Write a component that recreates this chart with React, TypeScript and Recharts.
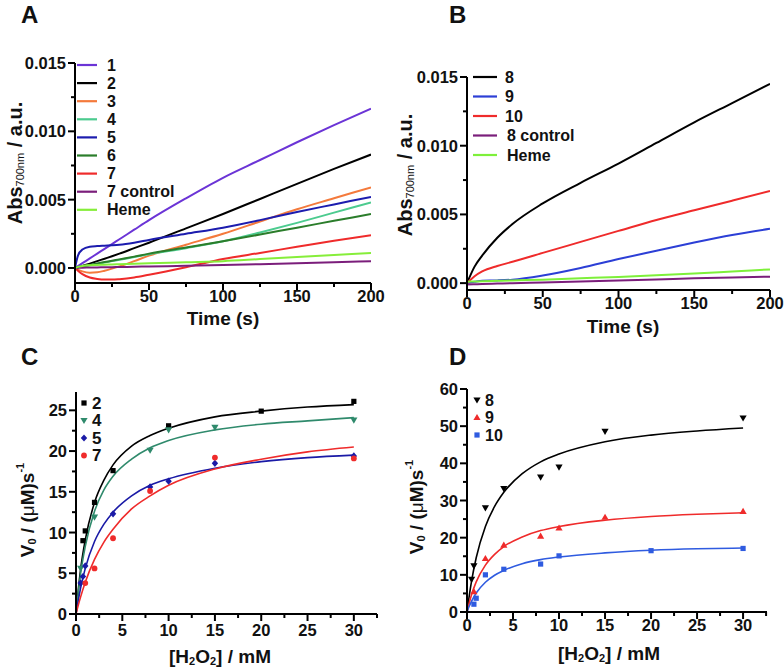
import React from 'react';
import { LineChart, ComposedChart, Line, Scatter, XAxis, YAxis } from 'recharts';

const FONT = '"Liberation Sans", Arial, Helvetica, sans-serif';
const INK = '#111';

// ---------- Panel A: Abs700 vs time, compounds 1-7 ----------
const timeA = [0, 2, 5, 10, 15, 20, 25, 30, 40, 50, 75, 100, 125, 150, 175, 200];
const absA1 = [0, 0.00014, 0.00035, 0.0007, 0.00105, 0.0014, 0.00175, 0.0021, 0.0028, 0.0035, 0.0051, 0.0066, 0.0079, 0.0092, 0.01045, 0.01165];
const absA2 = [0, 0.00005, 0.00015, 0.00032, 0.0005, 0.00068, 0.00086, 0.00105, 0.00145, 0.00185, 0.0029, 0.00395, 0.00505, 0.00615, 0.00725, 0.0083];
const absA3 = [0, -0.00012, -0.00025, -0.00035, -0.00032, -0.0002, -0.00005, 0.00012, 0.0005, 0.0009, 0.0017, 0.0025, 0.0034, 0.0043, 0.0051, 0.0059];
const absA4 = [0, 0.00004, 0.0001, 0.0002, 0.0003, 0.0004, 0.0005, 0.0006, 0.0008, 0.001, 0.00145, 0.00195, 0.0026, 0.0033, 0.00405, 0.0048];
const absA5 = [0, 0.0009, 0.00135, 0.00155, 0.0016, 0.00163, 0.00166, 0.0017, 0.00185, 0.00205, 0.0025, 0.00295, 0.0035, 0.0041, 0.00465, 0.0052];
const absA6 = [0, 0.00005, 0.00012, 0.00022, 0.00033, 0.00043, 0.00053, 0.00063, 0.00083, 0.00105, 0.0015, 0.00195, 0.00245, 0.00295, 0.00345, 0.00395];
const absA7 = [0, -0.0002, -0.00045, -0.0007, -0.0008, -0.00085, -0.00085, -0.00082, -0.0007, -0.0005, 0.00005, 0.00065, 0.0011, 0.00155, 0.002, 0.0024];
const absA7c = [0, 0.00001, 0.00002, 0.00003, 0.00004, 0.00005, 0.00006, 0.00007, 0.00009, 0.00011, 0.00016, 0.00021, 0.00028, 0.00035, 0.00042, 0.0005];
const absAHeme = [0, 0.00008, 0.00015, 0.0002, 0.00022, 0.00024, 0.00026, 0.00028, 0.00031, 0.00034, 0.00042, 0.0005, 0.00065, 0.0008, 0.00095, 0.0011];

const seriesA = [
  { key: 'a1', name: '1', color: '#6b34d6', values: absA1 },
  { key: 'a2', name: '2', color: '#000000', values: absA2 },
  { key: 'a3', name: '3', color: '#f47a3c', values: absA3 },
  { key: 'a4', name: '4', color: '#4ccb8f', values: absA4 },
  { key: 'a5', name: '5', color: '#1c1cae', values: absA5 },
  { key: 'a6', name: '6', color: '#2b7d2b', values: absA6 },
  { key: 'a7', name: '7', color: '#ef2b2b', values: absA7 },
  { key: 'a7c', name: '7 control', color: '#7b1e7b', values: absA7c },
  { key: 'aH', name: 'Heme', color: '#86ee3a', values: absAHeme },
];

// ---------- Panel B: Abs700 vs time, compounds 8-10 ----------
const timeB = [0, 5, 10, 20, 30, 50, 75, 100, 125, 150, 175, 200];
const absB8 = [0, 0.0012, 0.002, 0.0033, 0.0043, 0.0058, 0.0073, 0.0087, 0.0102, 0.0117, 0.0131, 0.0145];
const absB9 = [0, 0.0001, 0.00018, 0.0002, 0.00025, 0.00055, 0.0011, 0.00175, 0.00235, 0.00295, 0.0035, 0.00395];
const absB10 = [0, 0.0005, 0.00085, 0.00125, 0.00155, 0.0022, 0.003, 0.0038, 0.0046, 0.0053, 0.006, 0.0067];
const absB8c = [-0.0001, -0.00008, -0.00006, -0.00003, 0, 0.00005, 0.00012, 0.0002, 0.00027, 0.00035, 0.00041, 0.00047];
const absBHeme = [0.0001, 0.00012, 0.00014, 0.00017, 0.0002, 0.00025, 0.00035, 0.00045, 0.00057, 0.0007, 0.00085, 0.001];

const seriesB = [
  { key: 'b8', name: '8', color: '#000000', values: absB8 },
  { key: 'b9', name: '9', color: '#2c3fd6', values: absB9 },
  { key: 'b10', name: '10', color: '#ef2b2b', values: absB10 },
  { key: 'b8c', name: '8 control', color: '#7b1e7b', values: absB8c },
  { key: 'bH', name: 'Heme', color: '#7ef03a', values: absBHeme },
];

// ---------- Panel C / D: V0 vs [H2O2] ----------
const fitX = [0, 0.25, 0.5, 1, 2, 3, 4, 6, 8, 10, 15, 20, 25, 30];

const c2X = [0.75, 1, 2, 4, 10, 20, 30];
const c2Y = [9.0, 10.2, 13.7, 17.6, 23.1, 24.9, 26.1];
const c4X = [0.5, 2, 8, 10, 15, 30];
const c4Y = [5.6, 11.9, 20.1, 22.6, 22.9, 23.8];
const c5X = [0.5, 0.75, 1, 4, 8, 10, 15, 30];
const c5Y = [3.8, 4.6, 5.9, 12.3, 15.6, 16.3, 18.5, 19.4];
const c7X = [1, 2, 4, 8, 15, 30];
const c7Y = [3.8, 5.6, 9.3, 15.1, 19.2, 19.1];

const c2Fit = [0, 3.0, 5.5, 9.1, 13.7, 16.4, 18.3, 20.6, 21.9, 22.8, 24.2, 24.9, 25.4, 25.7];
const c4Fit = [0, 2.7, 5.0, 8.3, 12.6, 15.2, 16.9, 19.0, 20.4, 21.3, 22.6, 23.3, 23.7, 24.1];
const c5Fit = [0, 1.7, 3.2, 5.6, 8.9, 11.0, 12.5, 14.5, 15.8, 16.6, 17.9, 18.7, 19.2, 19.5];
const c7Fit = [0, 1.1, 2.1, 3.9, 6.7, 8.8, 10.4, 12.9, 14.5, 15.8, 17.8, 19.0, 19.9, 20.5];

const d8X = [0.5, 0.75, 2, 4, 8, 10, 15, 30];
const d8Y = [8.8, 12.4, 28.0, 33.2, 36.3, 39.0, 48.6, 52.2];
const d9X = [0.75, 2, 4, 8, 10, 15, 30];
const d9Y = [5.5, 14.4, 18.0, 20.4, 22.6, 25.5, 27.1];
const d10X = [0.75, 1, 2, 4, 8, 10, 20, 30];
const d10Y = [2.1, 3.7, 10.0, 11.5, 12.9, 15.1, 16.5, 17.1];

const d8Fit = [0, 4.5, 8.4, 14.6, 23.0, 28.4, 32.2, 37.2, 40.4, 42.5, 45.8, 47.6, 48.7, 49.5];
const d9Fit = [0, 2.5, 4.7, 8.1, 12.6, 15.5, 17.6, 20.2, 21.9, 23.0, 24.7, 25.7, 26.3, 26.7];
const d10Fit = [0, 1.6, 2.9, 5.1, 8.0, 9.9, 11.2, 13.0, 14.1, 14.8, 15.9, 16.6, 17.0, 17.2];

const seriesC = [
  { name: '2', color: '#000000', marker: 'square', xs: c2X, ys: c2Y, fit: c2Fit },
  { name: '4', color: '#2f8a6c', marker: 'down', xs: c4X, ys: c4Y, fit: c4Fit },
  { name: '5', color: '#1a1aa6', marker: 'diamond', xs: c5X, ys: c5Y, fit: c5Fit },
  { name: '7', color: '#ef2b2b', marker: 'circle', xs: c7X, ys: c7Y, fit: c7Fit },
];
const seriesD = [
  { name: '8', color: '#000000', marker: 'down', xs: d8X, ys: d8Y, fit: d8Fit },
  { name: '9', color: '#ef2b2b', marker: 'up', xs: d9X, ys: d9Y, fit: d9Fit },
  { name: '10', color: '#2f5be0', marker: 'square', xs: d10X, ys: d10Y, fit: d10Fit },
];

const timeTicks = [0, 25, 50, 75, 100, 125, 150, 175, 200];
const absTicks = [0, 0.0025, 0.005, 0.0075, 0.01, 0.0125, 0.015];
const concTicks = [0, 2.5, 5, 7.5, 10, 12.5, 15, 17.5, 20, 22.5, 25, 27.5, 30, 32.5];
const rateTicksC = [0, 2.5, 5, 7.5, 10, 12.5, 15, 17.5, 20, 22.5, 25];
const rateTicksD = [0, 5, 10, 15, 20, 25, 30, 35, 40, 45, 50, 55, 60];

const toRows = (xs: number[], ys: number[]) => xs.map((x, i) => ({ x, y: ys[i] }));

const buildRows = (times: number[], series: { key: string; values: number[] }[]) =>
  times.map((t, i) => {
    const row: any = { t };
    series.forEach((s) => { row[s.key] = s.values[i]; });
    return row;
  });

const rowsA = buildRows(timeA, seriesA);
const rowsB = buildRows(timeB, seriesB);

const tickFont = { fontFamily: FONT, fontWeight: 700, fontSize: 16.5, fill: INK };
const legendFont = { fontFamily: FONT, fontWeight: 700, fontSize: 16, fill: INK };
const titleFont = { fontFamily: FONT, fontWeight: 700, fontSize: 19, fill: INK };

const isMajor = (v: number, step: number) => Math.abs(v / step - Math.round(v / step)) < 1e-6;

const yTick = (axisX: number, step: number, fmt: (v: number) => string) => (props: any) => {
  const { y, payload } = props;
  const major = isMajor(payload.value, step);
  return (
    <g>
      <line x1={axisX} x2={axisX - (major ? 7 : 4)} y1={y} y2={y} stroke="#000" strokeWidth={2} />
      {major && (
        <text x={axisX - 9} y={y} textAnchor="end" dominantBaseline="central" style={tickFont}>
          {fmt(payload.value)}
        </text>
      )}
    </g>
  );
};

const xTick = (axisY: number, step: number, maxLabel: number, dy: number) => (props: any) => {
  const { x, payload } = props;
  const major = isMajor(payload.value, step) && payload.value <= maxLabel;
  return (
    <g>
      <line x1={x} x2={x} y1={axisY} y2={axisY + (major ? 7 : 4)} stroke="#000" strokeWidth={2} />
      {major && (
        <text x={x} y={axisY + dy} textAnchor="middle" dominantBaseline="central" style={tickFont}>
          {payload.value}
        </text>
      )}
    </g>
  );
};

const Marker = ({ kind, cx, cy, color }: { kind: string; cx: number; cy: number; color: string }) => {
  if (cx == null || cy == null) return null;
  if (kind === 'square') return <rect x={cx - 2.6} y={cy - 2.6} width={5.2} height={5.2} fill={color} />;
  if (kind === 'circle') return <circle cx={cx} cy={cy} r={2.9} fill={color} />;
  if (kind === 'diamond')
    return <polygon points={`${cx},${cy - 3.6} ${cx + 3.2},${cy} ${cx},${cy + 3.6} ${cx - 3.2},${cy}`} fill={color} />;
  if (kind === 'down')
    return <polygon points={`${cx - 3.6},${cy - 2.6} ${cx + 3.6},${cy - 2.6} ${cx},${cy + 3.6}`} fill={color} />;
  return <polygon points={`${cx - 3.6},${cy + 2.6} ${cx + 3.6},${cy + 2.6} ${cx},${cy - 3.6}`} fill={color} />;
};

const axisLine = { stroke: '#000', strokeWidth: 2 };

const TimeChart = ({ rows, series, width, height, margin, yWidth, xHeight, yDomain }: any) => {
  const axisX = margin.left + yWidth;
  const axisY = height - margin.bottom - xHeight;
  return (
    <LineChart width={width} height={height} data={rows} margin={margin}>
      <XAxis
        dataKey="t"
        type="number"
        domain={[0, 200]}
        ticks={timeTicks}
        interval={0}
        height={xHeight}
        axisLine={axisLine}
        tickLine={false}
        tick={xTick(axisY, 50, 200, 13)}
        allowDataOverflow
      />
      <YAxis
        type="number"
        domain={yDomain}
        ticks={absTicks}
        interval={0}
        width={yWidth}
        axisLine={axisLine}
        tickLine={false}
        tick={yTick(axisX, 0.005, (v) => v.toFixed(3))}
        allowDataOverflow
      />
      {series.map((s: any) => (
        <Line
          key={s.key}
          dataKey={s.key}
          type="monotone"
          stroke={s.color}
          strokeWidth={2}
          dot={false}
          activeDot={false}
          isAnimationActive={false}
        />
      ))}
    </LineChart>
  );
};

const RateChart = ({ series, width, height, margin, yWidth, xHeight, yDomain, yTicks, yStep, xMax, dy }: any) => {
  const axisX = margin.left + yWidth;
  const axisY = height - margin.bottom - xHeight;
  return (
    <ComposedChart width={width} height={height} margin={margin}>
      <XAxis
        dataKey="x"
        type="number"
        domain={[0, xMax]}
        ticks={concTicks}
        interval={0}
        height={xHeight}
        axisLine={axisLine}
        tickLine={false}
        tick={xTick(axisY, 5, 30, dy)}
        allowDataOverflow
      />
      <YAxis
        type="number"
        domain={yDomain}
        ticks={yTicks}
        interval={0}
        width={yWidth}
        axisLine={axisLine}
        tickLine={false}
        tick={yTick(axisX, yStep, (v) => String(v))}
        allowDataOverflow
      />
      {series.map((s: any) => (
        <Line
          key={'fit' + s.name}
          data={toRows(fitX, s.fit)}
          dataKey="y"
          type="monotone"
          stroke={s.color}
          strokeWidth={1.6}
          dot={false}
          activeDot={false}
          isAnimationActive={false}
        />
      ))}
      {series.map((s: any) => (
        <Scatter
          key={'pts' + s.name}
          data={toRows(s.xs, s.ys)}
          dataKey="y"
          fill={s.color}
          isAnimationActive={false}
          shape={(p: any) => <Marker kind={s.marker} cx={p.cx} cy={p.cy} color={s.color} />}
        />
      ))}
    </ComposedChart>
  );
};

const Overlay = () => (
  <svg width={784} height={672} style={{ position: 'absolute', left: 0, top: 0, pointerEvents: 'none' }}>
    {/* panel letters */}
    <text x={21} y={23} style={{ ...titleFont, fontSize: 24 }}>A</text>
    <text x={449} y={23} style={{ ...titleFont, fontSize: 24 }}>B</text>
    <text x={21} y={365} style={{ ...titleFont, fontSize: 24 }}>C</text>
    <text x={449} y={365} style={{ ...titleFont, fontSize: 24 }}>D</text>

    {/* axis titles */}
    <text x={223} y={318} textAnchor="middle" dominantBaseline="central" style={titleFont}>Time (s)</text>
    <text x={623} y={326} textAnchor="middle" dominantBaseline="central" style={titleFont}>Time (s)</text>
    {[{ x: 15, y: 163 }, { x: 405, y: 175 }].map((p, i) => (
      <text key={i} transform={`translate(${p.x},${p.y}) rotate(-90)`} textAnchor="middle" dominantBaseline="central" style={{ ...titleFont, fontSize: 20 }}>
        <tspan>Abs</tspan>
        <tspan fontSize={11} fontWeight={400} dy={5}>700nm</tspan>
        <tspan dy={-5}>{'  / a.u.'}</tspan>
      </text>
    ))}
    {[{ x: 220, y: 656 }, { x: 609, y: 653 }].map((p, i) => (
      <text key={i} x={p.x} y={p.y} textAnchor="middle" dominantBaseline="central" style={titleFont}>
        <tspan>[H</tspan>
        <tspan fontSize={11} dy={5}>2</tspan>
        <tspan dy={-5}>O</tspan>
        <tspan fontSize={11} dy={5}>2</tspan>
        <tspan dy={-5}>] / mM</tspan>
      </text>
    ))}
    {[{ x: 27, y: 510 }, { x: 416, y: 507 }].map((p, i) => (
      <text key={i} transform={`translate(${p.x},${p.y}) rotate(-90)`} textAnchor="middle" dominantBaseline="central" style={titleFont}>
        <tspan>V</tspan>
        <tspan fontSize={11} dy={5}>0</tspan>
        <tspan dy={-5}>{' / ('}</tspan>
        <tspan fontWeight={400}>μ</tspan>
        <tspan>M)s</tspan>
        <tspan fontSize={11} dy={-7}>-1</tspan>
      </text>
    ))}

    {/* legend A */}
    {seriesA.map((s, i) => (
      <g key={s.key}>
        <line x1={77} x2={97} y1={65 + 18.1 * i} y2={65 + 18.1 * i} stroke={s.color} strokeWidth={2.2} />
        <text x={107} y={65 + 18.1 * i} dominantBaseline="central" style={legendFont}>{s.name}</text>
      </g>
    ))}
    {/* legend B */}
    {seriesB.map((s, i) => (
      <g key={s.key}>
        <line x1={473} x2={497} y1={77 + 19.5 * i} y2={77 + 19.5 * i} stroke={s.color} strokeWidth={2.2} />
        <text x={i < 3 ? 505 : 507} y={77 + 19.5 * i} dominantBaseline="central" style={legendFont}>{s.name}</text>
      </g>
    ))}
    {/* legend C */}
    {seriesC.map((s, i) => (
      <g key={s.name}>
        <Marker kind={s.marker} cx={84} cy={403 + 17.5 * i} color={s.color} />
        <text x={92} y={403 + 17.5 * i} dominantBaseline="central" style={{ ...legendFont, fontSize: 17 }}>{s.name}</text>
      </g>
    ))}
    {/* legend D */}
    {seriesD.map((s, i) => (
      <g key={s.name}>
        <Marker kind={s.marker} cx={477} cy={400 + 17.5 * i} color={s.color} />
        <text x={485} y={400 + 17.5 * i} dominantBaseline="central" style={legendFont}>{s.name}</text>
      </g>
    ))}
  </svg>
);

export default function App() {
  return (
    <div style={{ position: 'absolute', left: 0, top: 0, width: 784, height: 672, background: '#fff', overflow: 'hidden' }}>
      <div style={{ position: 'absolute', left: 0, top: 0 }}>
        <TimeChart
          rows={rowsA}
          series={seriesA}
          width={390}
          height={335}
          margin={{ top: 63, right: 19, left: 15, bottom: 7 }}
          yWidth={60}
          xHeight={45}
          yDomain={[-0.0011, 0.015]}
        />
      </div>
      <div style={{ position: 'absolute', left: 390, top: 0 }}>
        <TimeChart
          rows={rowsB}
          series={seriesB}
          width={394}
          height={335}
          margin={{ top: 77, right: 14, left: 15, bottom: 7 }}
          yWidth={62}
          xHeight={38}
          yDomain={[-0.0005, 0.015]}
        />
      </div>
      <div style={{ position: 'absolute', left: 0, top: 340 }}>
        <RateChart
          series={seriesC}
          width={390}
          height={332}
          margin={{ top: 52, right: 13, left: 16, bottom: 8 }}
          yWidth={60}
          xHeight={50}
          yDomain={[0, 27.25]}
          yTicks={rateTicksC}
          yStep={5}
          xMax={32.5}
          dy={16}
        />
      </div>
      <div style={{ position: 'absolute', left: 390, top: 340 }}>
        <RateChart
          series={seriesD}
          width={394}
          height={332}
          margin={{ top: 49, right: 17, left: 15, bottom: 8 }}
          yWidth={62}
          xHeight={52}
          yDomain={[0, 60]}
          yTicks={rateTicksD}
          yStep={10}
          xMax={32.6}
          dy={13}
        />
      </div>
      <Overlay />
    </div>
  );
}
